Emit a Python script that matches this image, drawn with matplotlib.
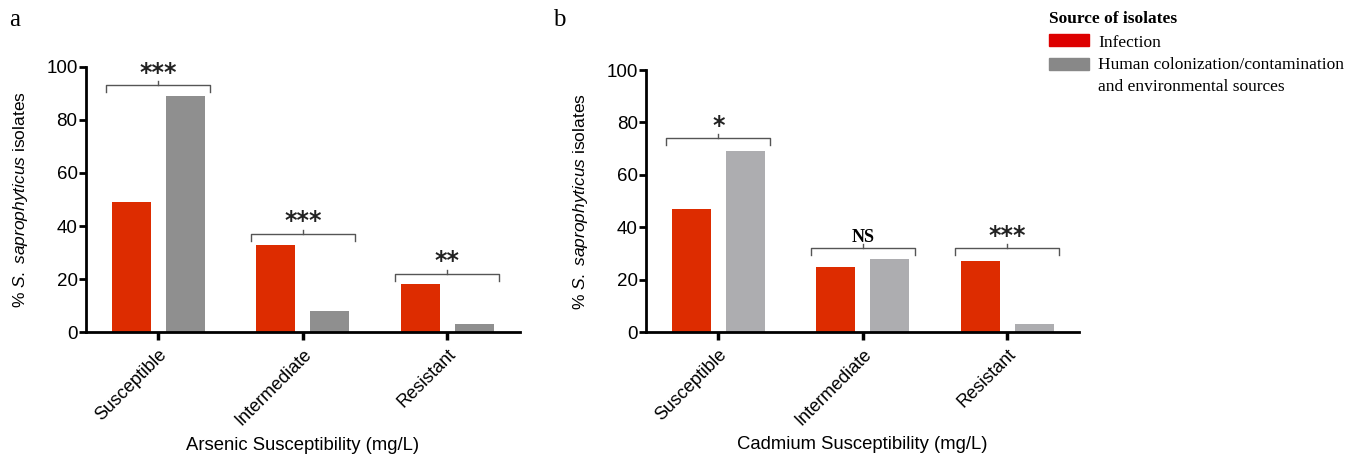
import matplotlib.pyplot as plt
import numpy as np

# Data
categories = ['Susceptible', 'Intermediate', 'Resistant']
arsenic_infection = [49, 33, 18]
arsenic_other = [89, 8, 3]
cadmium_infection = [47, 25, 27]
cadmium_other = [69, 28, 3]

arsenic_sig = ['***', '***', '**']
arsenic_bracket = [93, 37, 22]
cadmium_sig = ['*', 'NS', '***']
cadmium_bracket = [74, 32, 32]

legend_title = 'Source of isolates'
legend_labels = ['Infection', 'Human colonization/contamination',
                 'and environmental sources']

plt.rcParams['font.family'] = ['Liberation Sans', 'DejaVu Sans']
plt.rcParams['mathtext.fontset'] = 'custom'
plt.rcParams['mathtext.it'] = 'Liberation Sans:italic'
plt.rcParams['mathtext.rm'] = 'Liberation Sans'

RED = '#dd2c00'
fig = plt.figure(figsize=(13.49, 4.55), dpi=100)
ax_a = fig.add_axes([0.0637, 0.270, 0.3215, 0.583])
ax_b = fig.add_axes([0.479, 0.270, 0.321, 0.576])


def bracket(ax, xc, y, text, serif=False):
    half = 0.36
    d = 2.6
    ax.plot([xc - half, xc - half, xc + half, xc + half],
            [y - d, y, y, y - d], color='#555555', lw=1.0, clip_on=False)
    ax.plot([xc, xc], [y, y + 1.6], color='#555555', lw=1.0, clip_on=False)
    if serif:
        ax.text(xc, y + 0.8, text, ha='center', va='bottom', fontsize=13,
                fontweight='bold', family=['Liberation Serif'])
    else:
        ax.text(xc, y + 0.2, text, ha='center', va='bottom', fontsize=17,
                fontweight='bold', family=['DejaVu Sans'], color='#222222')


def panel(ax, inf, oth, sigs, ys, gray, xlabel):
    x = np.arange(len(categories))
    w = 0.27
    ax.bar(x - 0.187, inf, w, color=RED)
    ax.bar(x + 0.187, oth, w, color=gray)
    ax.set_xlim(-0.5, 2.5)
    ax.set_ylim(0, 100)
    ax.set_yticks([0, 20, 40, 60, 80, 100])
    ax.set_xticks(x)
    ax.set_xticklabels(categories, rotation=45, ha='right',
                       rotation_mode='anchor', fontsize=13)
    ax.tick_params(axis='y', labelsize=13.5, width=2, length=5, pad=1)
    ax.tick_params(axis='x', width=2.5, length=6, pad=4)
    for s in ['top', 'right']:
        ax.spines[s].set_visible(False)
    for s in ['left', 'bottom']:
        ax.spines[s].set_linewidth(2)
    ax.set_ylabel('% $\\it{S.}$ $\\it{saprophyticus}$ isolates', fontsize=12.5,
                  labelpad=12)
    ax.set_xlabel(xlabel, fontsize=13.3)
    ax.xaxis.set_label_coords(0.5, -0.427)
    ax.xaxis.label.set_verticalalignment('center')
    for i, (t, y) in enumerate(zip(sigs, ys)):
        bracket(ax, i, y, t, serif=(t == 'NS'))


panel(ax_a, arsenic_infection, arsenic_other, arsenic_sig, arsenic_bracket,
      '#8f8f8f', 'Arsenic Susceptibility (mg/L)')
panel(ax_b, cadmium_infection, cadmium_other, cadmium_sig, cadmium_bracket,
      '#adadb0', 'Cadmium Susceptibility (mg/L)')

fig.text(0.007, 0.955, 'a', fontsize=18, family=['Liberation Serif'], va='center')
fig.text(0.410, 0.955, 'b', fontsize=18, family=['Liberation Serif'], va='center')

# legend
serif = ['Liberation Serif']
fig.text(1049 / 1349, 1 - 19 / 455, legend_title, fontsize=12.5,
         fontweight='bold', family=serif, va='center')
patch_cols = ['#dd0000', '#888888']
patch_y = [40, 64]
for c, py in zip(patch_cols, patch_y):
    fig.patches.append(plt.Rectangle((1049 / 1349, 1 - (py + 6) / 455), 40 / 1349,
                                     12 / 455, transform=fig.transFigure,
                                     color=c))
text_y = [43, 65, 87]
for ty, lab in zip(text_y, legend_labels):
    fig.text(1098 / 1349, 1 - ty / 455, lab, fontsize=12.5, family=serif,
             va='center')

fig.savefig('out.png', dpi=100)
